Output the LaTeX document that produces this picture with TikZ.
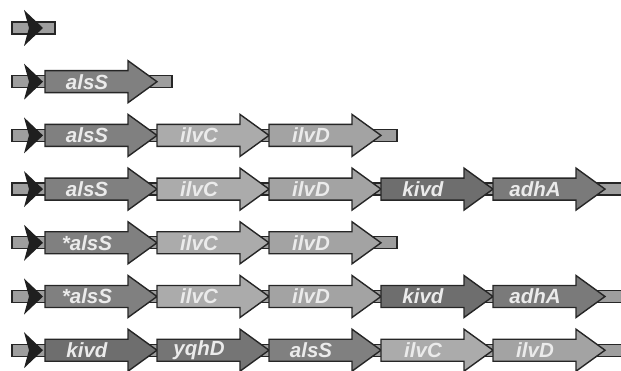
\documentclass[tikz,border=0pt]{standalone}
\usepackage{fontspec}
\setsansfont{Liberation Sans}
\usetikzlibrary{positioning}
\colorlet{alsS}{black!50}
\colorlet{ilvC}{black!33}
\colorlet{ilvD}{black!36}
\colorlet{kivd}{black!57}
\colorlet{adhA}{black!52}
\colorlet{yqhD}{black!54}
\begin{document}
\begin{tikzpicture}[x=1pt, y=-1pt,
  backbone/.style={draw=black!85, line width=1.2pt, fill=black!38},
  promoter/.style={fill=black!88},
  gene/.style={draw=black!85, line width=1.4pt, line join=miter},
  genename/.style={text=white!92!black, inner sep=0pt,
    font=\sffamily\bfseries\itshape\fontsize{20.5}{20.5}\selectfont}]
\useasboundingbox (0,0) rectangle (621,371);
%backbone and promoter
\foreach \r/\e in {1/55,2/172,3/397,4/630,5/397,6/630,7/630}{
  \pgfmathsetmacro\y{28+53.7*(\r-1)}
  \draw[backbone] (12,{\y-6}) rectangle (\e,{\y+6});
  \fill[promoter] (24,{\y-18}) -- (43,\y) -- (24,{\y+18}) -- (29,\y) -- cycle;
}
%genes
\foreach \r/\genes in {2/{alsS/alsS},
    3/{alsS/alsS,ilvC/ilvC,ilvD/ilvD},
    4/{alsS/alsS,ilvC/ilvC,ilvD/ilvD,kivd/kivd,adhA/adhA},
    5/{alsS/*alsS,ilvC/ilvC,ilvD/ilvD},
    6/{alsS/*alsS,ilvC/ilvC,ilvD/ilvD,kivd/kivd,adhA/adhA},
    7/{kivd/kivd,yqhD/yqhD,alsS/alsS,ilvC/ilvC,ilvD/ilvD}}{
  \pgfmathsetmacro\y{28+53.7*(\r-1)}
  \foreach \g/\t [count=\k] in \genes{
    \pgfmathsetmacro\x{45+112*(\k-1)}
    \draw[gene, fill=\g] (\x,{\y-11}) -- ++(83,0) -- ++(0,-10) -- ++(29,21)
      -- ++(-29,21) -- ++(0,-10) -- ++(-83,0) -- cycle;
    \node[genename] (r\r\g) at ({\x+42},\y) {\t};
  }
}
\end{tikzpicture}
\end{document}
